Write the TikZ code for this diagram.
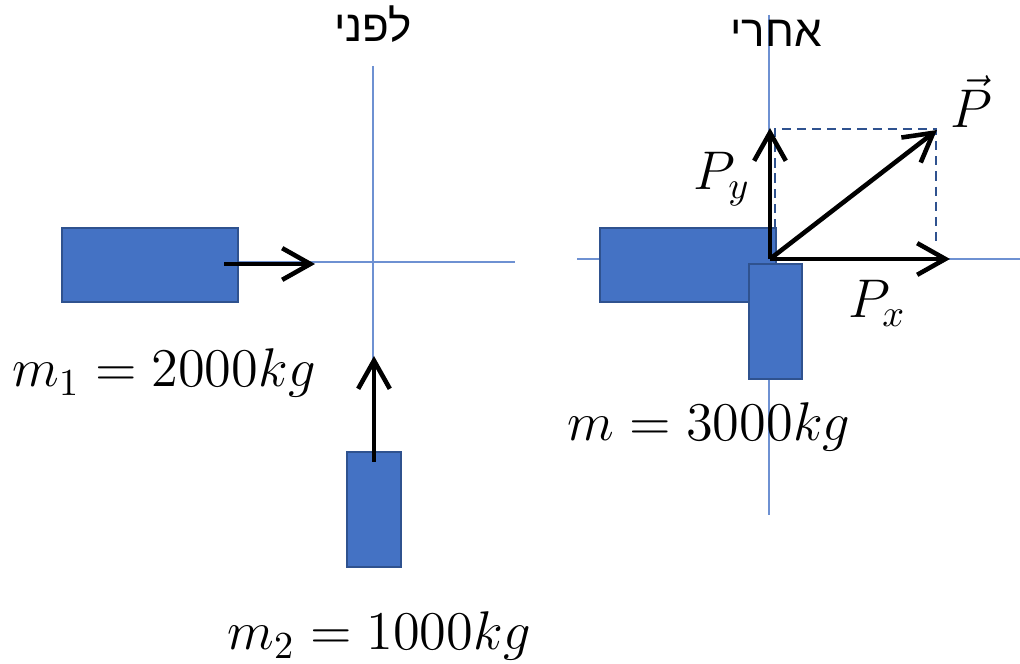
\RequirePackage{fix-cm}
\documentclass[tikz,border=0pt]{standalone}
\usepackage{fontspec}
\usepackage{tikz}
\usetikzlibrary{arrows.meta}
\newfontfamily\hebfont[Script=Hebrew]{Liberation Sans}
\TeXXeTstate=1
\definecolor{figfill}{RGB}{68,114,196}
\definecolor{figedge}{RGB}{47,82,143}
\definecolor{figaxis}{RGB}{110,145,210}
\tikzset{
  ax/.style  ={draw=figaxis, line width=0.35pt},
  blk/.style ={fill=figfill, draw=figedge, line width=0.8pt},
  ptr/.style ={draw=black, line width=1.3pt, -{Straight Barb[length=8pt,width=9pt]}},
  dsh/.style ={draw=figedge, line width=0.8pt, dash pattern=on 2.6pt off 1.7pt},
  lab/.style ={font=\fontsize{15.5}{18}\selectfont, inner sep=0pt, anchor=base},
  heb/.style ={font=\fontsize{12.5}{15}\selectfont\hebfont, inner sep=0pt, anchor=base},
}

\begin{document}
\begin{tikzpicture}[x=0.01cm,y=-0.01cm]
  \useasboundingbox (0,0) rectangle (1020,664);
  % before
  \draw[ax] (150,262) -- (515,262);
  \draw[ax] (373,66) -- (373,566);
  \draw[blk] (62,228) rectangle (238,302);
  \draw[blk] (347,452) rectangle (401,567);
  \coordinate (v1s) at (224,264);
  \coordinate (v1e) at (315,264);
  \coordinate (v2s) at (374,462);
  \coordinate (v2e) at (374,356);
  \draw[ptr] (v1s) -- (v1e);
  \draw[ptr] (v2s) -- (v2e);
  \node[heb] (before) at (373,42) {\beginR לפני\endR};
  \node[lab] (m1) at (164,387) {$m_1=2000kg$};
  \node[lab] (m2) at (379,650) {$m_2=1000kg$};
  % after
  \draw[ax] (577,259) -- (1020,259);
  \draw[ax] (769,15) -- (769,515);
  \draw[blk] (600,228) rectangle (776,302);
  \draw[blk] (749,264) rectangle (802,379);
  \draw[dsh] (775,228) -- (775,129) -- (936,129) -- (936,242);
  \coordinate (o) at (770,259);
  \coordinate (px) at (950,259);
  \coordinate (py) at (770,128);
  \coordinate (pv) at (937,130);
  \draw[ptr] (o) -- (px);
  \draw[ptr] (o) -- (py);
  \draw[ptr] (o) -- (pv);
  \node[heb] (after) at (776,47) {\beginR אחרי\endR};
  \node[lab] (lpv) at (971,128) {$\vec{P}$};
  \node[lab] (lpy) at (722,190) {$P_y$};
  \node[lab] (lpx) at (877,318) {$P_x$};
  \node[lab] (m) at (709,441) {$m=3000kg$};
\end{tikzpicture}
\end{document}
